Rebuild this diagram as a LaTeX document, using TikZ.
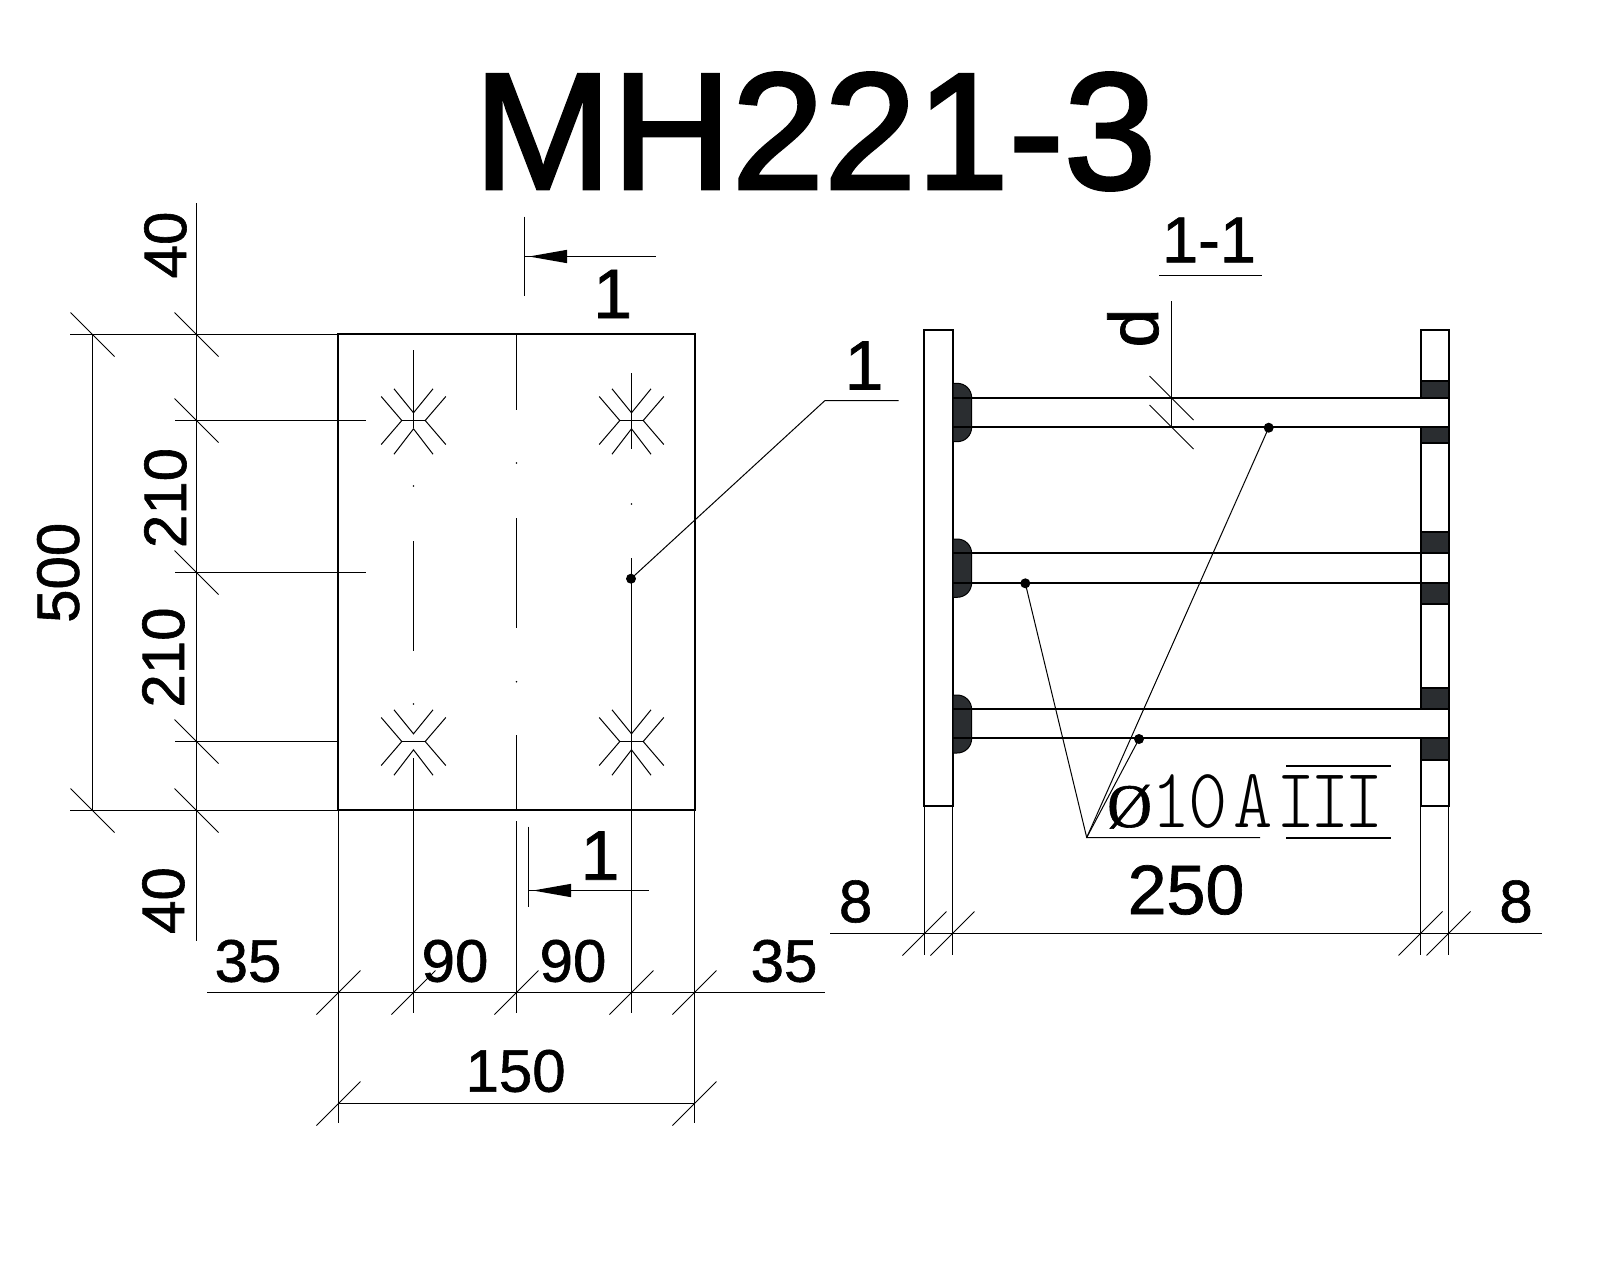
\documentclass[tikz,border=0pt]{standalone}
\usepackage{fontspec}
\setmainfont{Liberation Sans}[FakeBold=1]
\newfontfamily\titleface{Liberation Sans}[FakeBold=2]
\newfontfamily\serifface{Liberation Serif}[FakeBold=1]
\newfontfamily\cadface{Latin Modern Mono Light}[FakeStretch=0.88]
\tikzset{
  dimline/.style={line width=1pt,black},
  objline/.style={line width=2pt,black},
  lbl/.style={inner sep=0pt,outer sep=0pt,font=\fontsize{60}{60}\selectfont},
  biglbl/.style={inner sep=0pt,outer sep=0pt,font=\fontsize{70}{70}\selectfont},
  weldfill/.style={fill=weldc,draw=black,line width=1pt},
  leaderdot/.style={circle,fill=black,inner sep=0pt,minimum size=10pt},
  speck/.style={circle,fill=black,inner sep=0pt,minimum size=1.6pt},
}
\definecolor{weldc}{HTML}{2A2D30}
\newcommand{\backtick}[2]{\draw[dimline] ({#1-22},{#2-22}) -- ({#1+22},{#2+22});}
\newcommand{\slashtick}[2]{\draw[dimline] ({#1-22},{#2+22}) -- ({#1+22},{#2-22});}
\newcommand{\anchormark}[2]{%
  \draw[dimline] ({#1-11.7},#2) -- ({#1+11.7},#2);
  \draw[dimline] ({#1-32.3},{#2-24}) -- ({#1-11.7},#2) -- ({#1-32.3},{#2+24});
  \draw[dimline] ({#1+32.3},{#2-24}) -- ({#1+11.7},#2) -- ({#1+32.3},{#2+24});
  \draw[dimline] ({#1-19.5},{#2-31.7}) -- (#1,{#2-7.7}) -- ({#1+19.5},{#2-31.7});
  \draw[dimline] ({#1-19.5},{#2+33.7}) -- (#1,{#2+8.3}) -- ({#1+19.5},{#2+33.7});
}
\begin{document}
\begin{tikzpicture}[x=1pt,y=-1pt]
\useasboundingbox (0,0) rectangle (1600,1280);
\fill[white] (0,0) rectangle (1600,1280);

% title
\node[inner sep=0pt,font=\titleface\fontsize{166}{166}\selectfont] (title) at (815,131.5) {MH221-3};

% ---- front view ----
\draw[objline] (338,334) rectangle (695,810);

% left dimension system
\draw[dimline] (196.5,203) -- (196.5,941);
\draw[dimline] (92.5,334) -- (92.5,810);
\draw[dimline] (70,334.5) -- (338,334.5);
\draw[dimline] (70,810.5) -- (338,810.5);
\draw[dimline] (175,420.5) -- (366,420.5);
\draw[dimline] (175,572.5) -- (366,572.5);
\draw[dimline] (175,741.5) -- (338,741.5);
\backtick{92.5}{334.5}
\backtick{92.5}{810.5}
\backtick{196.5}{334.5}
\backtick{196.5}{420.5}
\backtick{196.5}{572.5}
\backtick{196.5}{741.5}
\backtick{196.5}{810.5}

% centre lines
\draw[dimline] (413.5,350) -- (413.5,428);
\draw[dimline] (413.5,541) -- (413.5,651);
\draw[dimline] (413.5,758) -- (413.5,1013);
\draw[dimline] (516.5,334) -- (516.5,410);
\draw[dimline] (516.5,518) -- (516.5,627.7);
\draw[dimline] (516.5,735) -- (516.5,810);
\draw[dimline] (516.5,821) -- (516.5,1013);
\draw[dimline] (631.5,373.3) -- (631.5,449);
\draw[dimline] (631.5,558) -- (631.5,1013);
\node[speck] (s1) at (413.5,486) {};
\node[speck] (s2) at (413.5,704) {};
\node[speck] (s3) at (516.5,463) {};
\node[speck] (s4) at (516.5,681.7) {};
\node[speck] (s5) at (631.5,504) {};

% anchor marks
\anchormark{413.5}{420.5}
\anchormark{631.5}{420.5}
\anchormark{413.5}{741.5}
\anchormark{631.5}{741.5}

% bottom dimension system
\draw[dimline] (338.5,810) -- (338.5,1123);
\draw[dimline] (694.5,810) -- (694.5,1123);
\draw[dimline] (207,992.5) -- (825,992.5);
\draw[dimline] (338,1103.5) -- (695,1103.5);
\slashtick{338.5}{992.5}
\slashtick{413.5}{992.5}
\slashtick{516.5}{992.5}
\slashtick{631.5}{992.5}
\slashtick{694.5}{992.5}
\slashtick{338.5}{1103.5}
\slashtick{694.5}{1103.5}

% section marks
\draw[dimline] (524.5,216.5) -- (524.5,296);
\draw[dimline] (524.5,256.5) -- (655.5,256.5);
\fill[black] (529,256.5) -- (567,249.8) -- (567,263.2) -- cycle;
\draw[dimline] (528.5,826.7) -- (528.5,906.7);
\draw[dimline] (528.5,890.5) -- (648.7,890.5);
\fill[black] (533,890.5) -- (571,883.8) -- (571,897.2) -- cycle;

% leader 1
\node[leaderdot] (d0) at (631,578.7) {};
\coordinate (l0) at (825,400.5);
\coordinate (l1) at (898.5,400.5);
\draw[dimline] (d0.center) -- (l0) -- (l1);

% front view labels
\node[lbl,rotate=90] (t40a) at (165.4,245) {40};
\node[lbl,rotate=90] (t210a) at (165.4,498) {210};
\node[lbl,rotate=90] (t210b) at (163.4,657.5) {210};
\node[lbl,rotate=90] (t40b) at (163.4,900.5) {40};
\node[lbl,rotate=90] (t500) at (58.2,572.8) {500};
\node[biglbl] (t1a) at (612.6,294) {1};
\node[biglbl] (t1b) at (600,855.6) {1};
\node[biglbl] (t1c) at (864,365.5) {1};
\node[lbl] (t35a) at (248,961) {35};
\node[lbl] (t90a) at (455,961) {90};
\node[lbl] (t90b) at (573,961) {90};
\node[lbl] (t35b) at (784,961) {35};
\node[lbl] (t150) at (515.6,1071) {150};

% ---- section 1-1 ----
% plates
\draw[objline] (924,330) rectangle (953,806);
\draw[objline,fill=white] (1421,330) rectangle (1449,806);

% right plate blocks
\foreach \ya/\yb in {381/398,427/443,532/553,583/604,688/709,738/760}
  \draw[objline,fill=weldc] (1421,\ya) rectangle (1449,\yb);

% welds
\foreach \ya/\yb in {383.3/441.7,539/597.3,695/753}
  \draw[weldfill] (953,\ya) -- (957,\ya) .. controls (965,\ya) and (971.7,{\ya+6}) .. (971.7,{\ya+15})
     -- (971.7,{\yb-15}) .. controls (971.7,{\yb-6}) and (965,\yb) .. (957,\yb) -- (953,\yb) -- cycle;

% rods
\fill[white] (1419,399) rectangle (1448,426);
\fill[white] (1419,710) rectangle (1448,737);
\draw[objline] (953,398) -- (1449,398);
\draw[objline] (953,427) -- (1449,427);
\draw[objline] (953,553) -- (1421,553);
\draw[objline] (953,583) -- (1421,583);
\draw[objline] (953,709) -- (1449,709);
\draw[objline] (953,738) -- (1449,738);

% dimension d
\draw[dimline] (1171.5,301) -- (1171.5,427);
\backtick{1171.5}{398}
\backtick{1171.5}{427}

% bottom dimension
\draw[dimline] (924.5,806) -- (924.5,955);
\draw[dimline] (952.5,806) -- (952.5,955);
\draw[dimline] (1420.5,806) -- (1420.5,955);
\draw[dimline] (1448.5,806) -- (1448.5,955);
\draw[dimline] (830,933.5) -- (1542,933.5);
\slashtick{924.5}{933.5}
\slashtick{952.5}{933.5}
\slashtick{1420.5}{933.5}
\slashtick{1448.5}{933.5}

% title of section
\node[inner sep=0pt,font=\fontsize{65}{65}\selectfont] (t11) at (1209,240) {1-1};
\draw[dimline] (1159,275.5) -- (1262,275.5);
\node[biglbl,rotate=90] (td) at (1133,328) {d};
\node[lbl] (t8a) at (855.6,901.5) {8};
\node[biglbl] (t250) at (1186,890) {250};
\node[lbl] (t8b) at (1516,901.5) {8};

% rebar leaders
\node[leaderdot] (d1) at (1268.7,427.7) {};
\node[leaderdot] (d2) at (1025.3,583.3) {};
\node[leaderdot] (d3) at (1139,739) {};
\coordinate (apex) at (1086.7,837.5);
\coordinate (base) at (1260,837.5);
\draw[dimline] (d1.center) -- (apex);
\draw[dimline] (d2.center) -- (apex);
\draw[dimline] (d3.center) -- (apex) -- (base);

% rebar text
\node[inner sep=0pt,anchor=base west,font=\cadface\fontsize{85}{85}\selectfont] (rebar) at (1107,827) {{\serifface\fontsize{62}{62}\selectfont Ø}1\kern-3pt 0\kern6pt A};
\node[inner sep=0pt,anchor=base,font=\cadface\fontsize{85}{85}\selectfont] (grade) at (1330,827) {I\kern-5pt I\kern-5pt I};
\draw[objline] (1286,766) -- (1391,766);
\draw[objline] (1286,838) -- (1391,838);
\end{tikzpicture}
\end{document}
